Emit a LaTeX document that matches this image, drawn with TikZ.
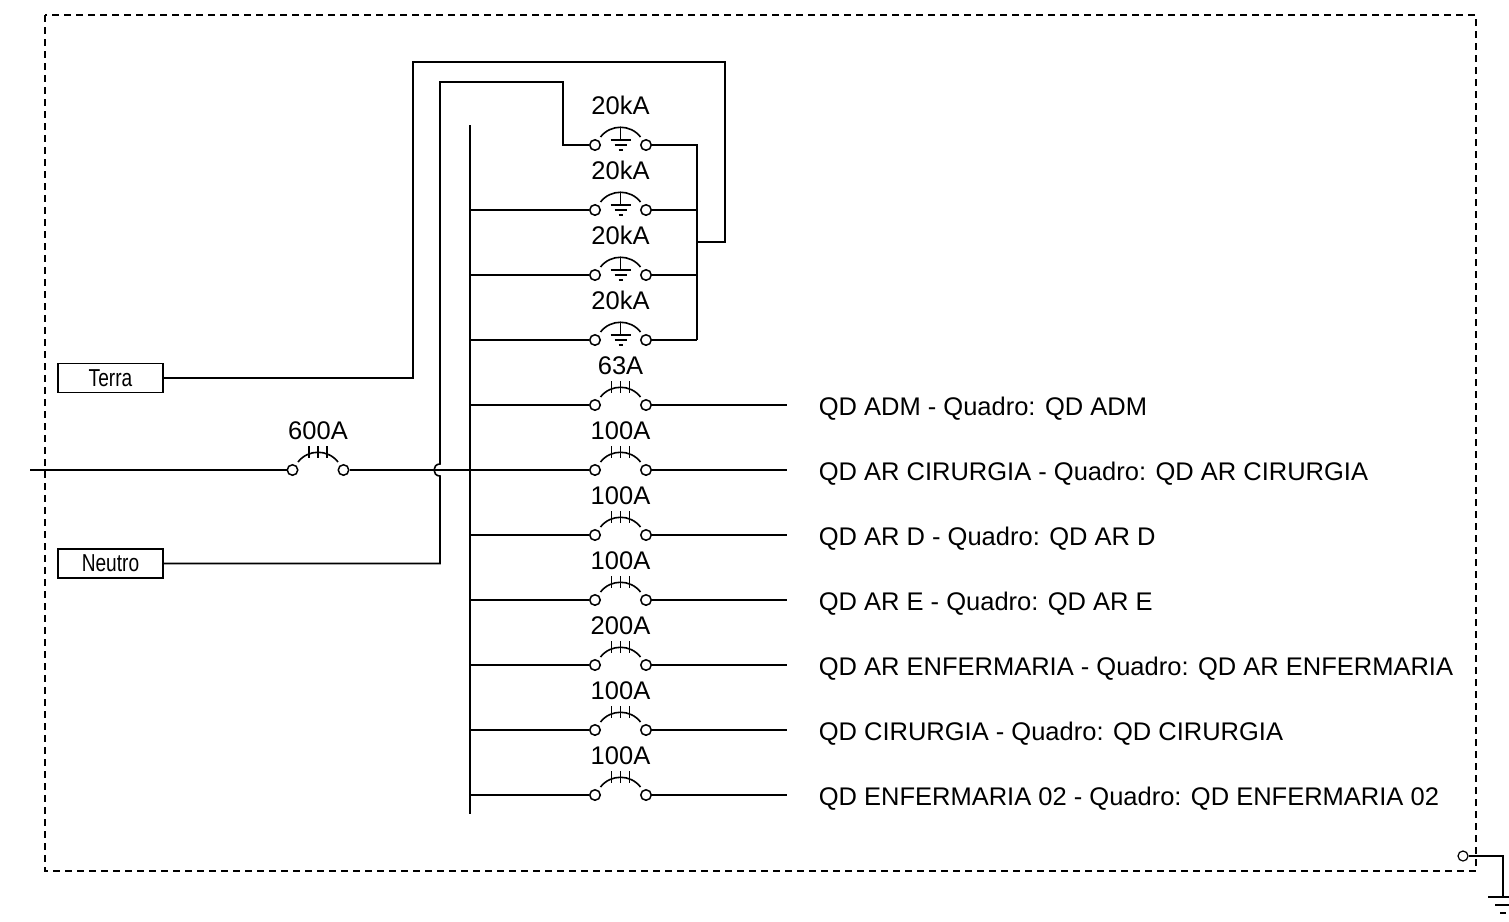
\documentclass[tikz,border=0pt]{standalone}
\usepackage{fontspec}
\setmainfont{Liberation Sans}
\newfontfamily\narrowfont[FakeStretch=0.78]{Liberation Sans}
\begin{document}
\begin{tikzpicture}[x=1pt,y=-1pt,line width=1.6pt,
  term/.style={circle,draw,fill=white,inner sep=0pt,minimum size=10.5pt,line width=1.5pt},
  amp/.style={font=\fontsize{25.5}{28}\selectfont,inner sep=0pt,anchor=base},
  dest/.style={font=\fontsize{25.5}{28}\selectfont,anchor=base west,inner sep=0pt},
  tagbox/.style={draw,minimum width=105pt,minimum height=29pt,inner sep=0pt,font=\narrowfont\fontsize{24.5}{26}\selectfont,line width=1.5pt},
  wire/.style={line width=1.6pt}]
\useasboundingbox (0,0) rectangle (1509,921);
\begin{scope}
\clip (0,0) rectangle (1509,921);
% border
\draw[line width=1.8pt,dash pattern=on 7pt off 5pt] (45,15) rectangle (1476,871);

% breaker macro: #1 name, #2 cx, #3 y, #4 label
\newcommand{\brkr}[4]{%
  \node[term] (#1L) at (#2-25.5,#3) {};
  \node[term] (#1R) at (#2+25.5,#3) {};
  \draw[wire] (#2-20,#3-8) .. controls (#2-10,#3-21) and (#2+10,#3-21) .. (#2+20,#3-8);
  \draw[line width=1.3pt] (#2-9,#3-24) -- (#2-9,#3-12) (#2,#3-24) -- (#2,#3-12) (#2+9,#3-24) -- (#2+9,#3-12);
  \node[amp] (#1T) at (#2,#3-31) {#4};
}
\newcommand{\spd}[4]{%
  \node[term] (#1L) at (#2-25.5,#3) {};
  \node[term] (#1R) at (#2+25.5,#3) {};
  \draw[wire] (#2-20,#3-8) .. controls (#2-10,#3-21) and (#2+10,#3-21) .. (#2+20,#3-8);
  \draw[line width=1.3pt] (#2,#3-18) -- (#2,#3-5) (#2-10,#3-5) -- (#2+10,#3-5) (#2-6,#3) -- (#2+6,#3) (#2-2,#3+5) -- (#2+2,#3+5);
  \node[amp] (#1T) at (#2,#3-31) {#4};
}

% bus
\coordinate (busT) at (470,125);
\coordinate (busB) at (470,814);
\draw[wire] (busT) -- (busB);

% SPDs
\spd{s1}{620.5}{145}{20kA}
\spd{s2}{620.5}{210}{20kA}
\spd{s3}{620.5}{275}{20kA}
\spd{s4}{620.5}{340}{20kA}

% collector
\coordinate (c1) at (697,145);
\coordinate (c4) at (697,340);
\coordinate (cg) at (697,242);
\draw[wire] (s1R) -- (c1) -- (c4);
\draw[wire] (s2R) -- (697,210);
\draw[wire] (s3R) -- (697,275);
\draw[wire] (s4R) -- (c4);
\draw[wire] (470,210) -- (s2L);
\draw[wire] (470,275) -- (s3L);
\draw[wire] (470,340) -- (s4L);

% boxes
\node[tagbox] (terra) at (110.5,378) {Terra};
\node[tagbox] (neutro) at (110.5,563.5) {Neutro};

% terra wire
\draw[wire] (terra.east) -- (413,378) -- (413,62) -- (725,62) -- (725,242) -- (cg);

% neutral wire with hop
\draw[wire] (neutro.east) -- (440,563.5) -- (440,476) .. controls (432,476) and (432,464) .. (440,464) -- (440,82) -- (563,82) -- (563,145) -- (s1L);

% main breaker
\brkr{m}{318}{470}{600A}
\coordinate (inp) at (30,470);
\draw[wire] (inp) -- (mL);
\draw[wire] (mR) -- (470,470);

% feeders
\foreach \n/\yy/\a/\t in {
  b1/405/63A/{QD ADM - Quadro: QD ADM},
  b2/470/100A/{QD AR CIRURGIA - Quadro: QD AR CIRURGIA},
  b3/535/100A/{QD AR D - Quadro: QD AR D},
  b4/600/100A/{QD AR E - Quadro: QD AR E},
  b5/665/200A/{QD AR ENFERMARIA - Quadro: QD AR ENFERMARIA},
  b6/730/100A/{QD CIRURGIA - Quadro: QD CIRURGIA},
  b7/795/100A/{QD ENFERMARIA 02 - Quadro: QD ENFERMARIA 02}}{
  \brkr{\n}{620.5}{\yy}{\a}
  \coordinate (\n E) at (787,\yy);
  \draw[wire] (470,\yy) -- (\n L);
  \draw[wire] (\n R) -- (\n E);
  \node[dest] (\n D) at (818,\yy+10) {\t};
}

% ground at bottom right
\node[term,minimum size=10pt,line width=1.2pt] (gc) at (1463,856) {};
\coordinate (g1) at (1503,856);
\coordinate (g2) at (1503,897);
\draw[line width=1.3pt] (gc) -- (g1) -- (g2);
\draw[line width=1.3pt] (1488,897) -- (1518,897) (1495,905) -- (1511,905) (1500,913) -- (1506,913);
\end{scope}
\end{tikzpicture}
\end{document}
